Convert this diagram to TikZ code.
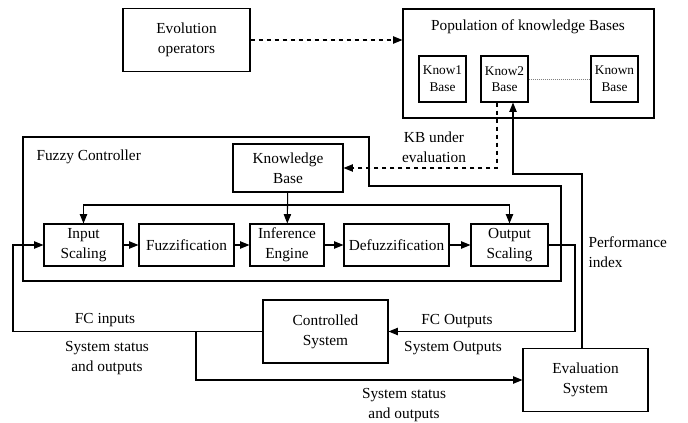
\documentclass[tikz,border=0pt]{standalone}
\usepackage{fontspec}
\setmainfont{Liberation Serif}
\usetikzlibrary{arrows.meta}

\newcommand{\figfont}{\fontsize{11.5}{15}\selectfont}
\newcommand{\kbfont}{\fontsize{10}{12.5}\selectfont}

\begin{document}
\begin{tikzpicture}[x=0.75pt, y=-0.75pt, line width=0.8pt,
    >={Triangle[length=7pt,width=5.5pt]},
    block/.style 2 args={draw, align=center, inner sep=0pt, font=\figfont,
        minimum width=#1*0.75pt, minimum height=#2*0.75pt},
    kbbox/.style={block={47}{46}, font=\kbfont},
    lbl/.style={align=center, inner sep=0pt, font=\figfont}]

    % Page frame
    \useasboundingbox (0,0) rectangle (688,423);

    % Evolution side
    \node[block={127}{63}] (evo) at (186.5,40) {Evolution\\operators};
    \node[block={251}{109}] (pop) at (528.5,63.5) {};
    \node[lbl] (popTitle) at (528,27) {Population of knowledge Bases};
    \node[kbbox] (kb1) at (442.5,79) {Know1\\Base};
    \node[kbbox] (kb2) at (504.5,79) {Know2\\Base};
    \node[kbbox] (kbn) at (614.5,79) {Known\\Base};
    \draw[densely dotted, gray, line width=0.5pt] (kb2) -- (kbn);
    \draw[dashed, ->] (evo.east) -- (evo.east -| pop.west);

    % Fuzzy controller frame
    \draw (23,137) -- (369,137) -- (369,186) -- (561,186) -- (561,281) -- (23,281) -- cycle;
    \node[lbl, anchor=west] (fcTitle) at (36,157) {Fuzzy Controller};

    % Knowledge base and chain
    \node[block={110}{48}] (kb) at (288,168) {Knowledge\\Base};
    \node[block={79}{42}] (in) at (83.5,245) {Input\\Scaling};
    \node[block={95}{42}] (fuzz) at (186.5,245) {Fuzzification};
    \node[block={74}{42}] (inf) at (287,245) {Inference\\Engine};
    \node[block={105}{42}] (defuzz) at (396.5,245) {Defuzzification};
    \node[block={77}{42}] (out) at (509.5,245) {Output\\Scaling};

    \draw[->] (in) -- (fuzz);
    \draw[->] (fuzz) -- (inf);
    \draw[->] (inf) -- (defuzz);
    \draw[->] (defuzz) -- (out);

    \coordinate (split) at (287,205);
    \draw[->] (kb) -- (inf);
    \draw[->] (split) -| (in);
    \draw[->] (split) -| (out);

    % Plant and evaluation
    \node[block={125}{63}] (ctrl) at (325.5,331.5) {Controlled\\System};
    \node[block={125}{63}] (eval) at (585.5,380) {Evaluation\\System};

    \coordinate (loopL) at (13,331.5);
    \coordinate (loopR) at (575,331.5);
    \coordinate (tap) at (196,331.5);
    \coordinate (kbTap) at (497,168);
    \coordinate (perfCorner) at (582,174);
    \coordinate (perfTurn) at (513,174);

    \draw[->] (ctrl) -- (loopL) |- (in);
    \draw[->] (out.east) -| (loopR) |- (ctrl);
    \draw[->] (tap) |- (eval);
    \draw[dashed, ->] (kbTap |- kb2.south) -- (kbTap) -- (kb.east);
    \draw[->] (perfCorner |- eval.north) -- (perfCorner) -- (perfTurn) -- (perfTurn |- kb2.south);

    % Labels
    \node[lbl] (kbEval) at (434,147) {KB under\\evaluation};
    \node[lbl, anchor=west, align=left] (perf) at (588,252) {Performance\\index};
    \node[lbl] (fcIn) at (105,320) {FC inputs};
    \node[lbl] (fcOut) at (457,321) {FC Outputs};
    \node[lbl] (sysOut) at (453,348) {System Outputs};
    \node[lbl] (statusL) at (107,358) {System status\\and outputs};
    \node[lbl] (statusB) at (404,405) {System status\\and outputs};

\end{tikzpicture}
\end{document}
